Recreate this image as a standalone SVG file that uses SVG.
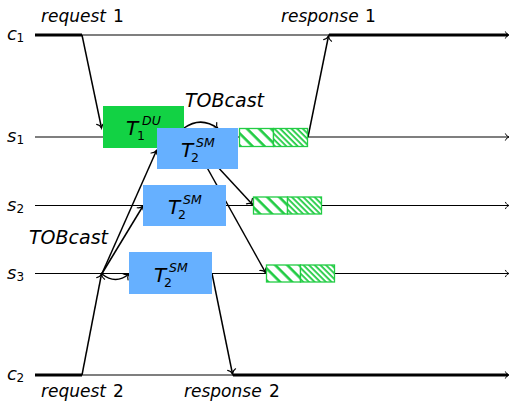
<svg xmlns="http://www.w3.org/2000/svg" width="511" height="403" viewBox="0 0 511 403">
  <style>
    text { font-family: "DejaVu Sans", "Noto Sans", sans-serif; fill: #000; }
    .it { font-style: italic; }
    .up { font-style: normal; }
    .lbl { font-size: 17px; }
    .lane { font-size: 18px; font-style: italic; }
    .sub { font-size: 12px; }
    .big { font-size: 20px; font-style: italic; }
    .tiny { font-size: 12.5px; }
    .cast { font-size: 19px; font-style: italic; }
    .line { stroke: #000; stroke-width: 1.1; fill: none; }
    .thick { stroke: #000; stroke-width: 2.8; fill: none; }
    .msg { stroke: #000; stroke-width: 1.5; fill: none; marker-end: url(#tip); }
    .du { fill: #12d244; }
    .sm { fill: #66b0ff; }
    .cell { stroke: #22cc44; stroke-width: 1.3; }
  </style>
  <defs>
    <marker id="tip" markerUnits="userSpaceOnUse" viewBox="-6 -5 8 10" refX="0" refY="0" markerWidth="8" markerHeight="10" orient="auto" overflow="visible">
      <path d="M-4.5,-4 C-3.5,-1.6 -1.4,-0.4 0,0 C-1.4,0.4 -3.5,1.6 -4.5,4" fill="none" stroke="#000" stroke-width="1.2" stroke-linecap="round"/>
    </marker>
    <marker id="ltip" markerUnits="userSpaceOnUse" viewBox="-6 -5 8 10" refX="0" refY="0" markerWidth="8" markerHeight="10" orient="auto" overflow="visible">
      <path d="M-3.5,-3.2 C-2.7,-1.3 -1.1,-0.3 0,0 C-1.1,0.3 -2.7,1.3 -3.5,3.2" fill="none" stroke="#000" stroke-width="1" stroke-linecap="round"/>
    </marker>
    <pattern id="sparse" patternUnits="userSpaceOnUse" width="8.5" height="8.5" patternTransform="rotate(45)">
      <rect width="8.5" height="8.5" fill="#fff"/>
      <rect y="0" width="8.5" height="2.6" fill="#22cc44"/>
    </pattern>
    <pattern id="dense" patternUnits="userSpaceOnUse" width="4" height="4" patternTransform="rotate(45)">
      <rect width="4" height="4" fill="#fff"/>
      <rect y="0" width="4" height="1.8" fill="#22cc44"/>
    </pattern>
  </defs>

  <!-- process timelines -->
  <g id="lanes">
    <path class="line" d="M35,35 H509" marker-end="url(#ltip)"/>
    <path class="line" d="M35,137 H509" marker-end="url(#ltip)"/>
    <path class="line" d="M35,205.5 H509" marker-end="url(#ltip)"/>
    <path class="line" d="M35,273.5 H509" marker-end="url(#ltip)"/>
    <path class="line" d="M35,375 H509" marker-end="url(#ltip)"/>
    <path class="thick" d="M35,35 H82 M329,35 H508"/>
    <path class="thick" d="M35,375 H82 M233,375 H508"/>
  </g>

  <g id="lane-labels">
    <text class="lane" x="7" y="40">c<tspan class="sub up" x="16.5" y="42">1</tspan></text>
    <text class="lane" x="7" y="142">s<tspan class="sub up" x="16.5" y="144">1</tspan></text>
    <text class="lane" x="7" y="210.5">s<tspan class="sub up" x="16.5" y="212.5">2</tspan></text>
    <text class="lane" x="7" y="278.5">s<tspan class="sub up" x="16.5" y="280.5">3</tspan></text>
    <text class="lane" x="7" y="380">c<tspan class="sub up" x="16.5" y="382">2</tspan></text>
  </g>

  <!-- messages -->
  <g id="connectors">
    <path class="msg" d="M82,35 L101.5,128"/>
    <path class="msg" d="M308,137 L328.5,36"/>
    <path class="msg" d="M184,128 Q201,116 218,128.5"/>
    <path class="msg" d="M190,137 L252.5,204.5"/>
    <path class="msg" d="M190,137 L265.5,272.5"/>
    <path class="msg" d="M82,375 L101.5,274"/>
    <path class="msg" d="M102,273.5 L156.5,150.5"/>
    <path class="msg" d="M102,273.5 L143,206"/>
    <path class="msg" d="M102,274 Q115.5,285 129,274"/>
    <path class="msg" d="M212,273.5 L232.5,374"/>
  </g>

  <g id="message-labels">
    <text class="lbl" x="41" y="22"><tspan class="it">request</tspan><tspan x="113">1</tspan></text>
    <text class="lbl" x="281" y="22"><tspan class="it">response</tspan><tspan x="365">1</tspan></text>
    <text class="lbl" x="41" y="397"><tspan class="it">request</tspan><tspan x="113">2</tspan></text>
    <text class="lbl" x="184" y="397"><tspan class="it">response</tspan><tspan x="269">2</tspan></text>
    <text class="cast" x="185" y="107">TOBcast</text>
    <text class="cast" x="29" y="244">TOBcast</text>
  </g>

  <!-- transactions -->
  <g id="t1-du">
    <rect class="du" x="103" y="106" width="81" height="42"/>
    <text class="big" x="126" y="135">T<tspan class="tiny up" x="137" y="140">1</tspan><tspan class="tiny it" x="142" y="125">DU</tspan></text>
  </g>
  <g id="t2-sm-s1">
    <rect class="sm" x="157" y="128" width="81" height="41"/>
    <text class="big" x="181" y="157">T<tspan class="tiny up" x="191" y="162">2</tspan><tspan class="tiny it" x="196" y="147">SM</tspan></text>
  </g>
  <g id="t2-sm-s2">
    <rect class="sm" x="143" y="185" width="83" height="41"/>
    <text class="big" x="168" y="214">T<tspan class="tiny up" x="178" y="219">2</tspan><tspan class="tiny it" x="183" y="204">SM</tspan></text>
  </g>
  <g id="t2-sm-s3">
    <rect class="sm" x="129" y="252" width="83" height="42"/>
    <text class="big" x="154" y="281.5">T<tspan class="tiny up" x="164" y="286.5">2</tspan><tspan class="tiny it" x="169" y="271.5">SM</tspan></text>
  </g>

  <!-- hatched commit phases -->
  <g id="commit-s1">
    <rect class="cell" x="239.5" y="128.5" width="34" height="18" fill="url(#sparse)"/>
    <rect class="cell" x="273.5" y="128.5" width="34" height="18" fill="url(#dense)"/>
  </g>
  <g id="commit-s2">
    <rect class="cell" x="253.5" y="197" width="34" height="17" fill="url(#sparse)"/>
    <rect class="cell" x="287.5" y="197" width="34" height="17" fill="url(#dense)"/>
  </g>
  <g id="commit-s3">
    <rect class="cell" x="266.5" y="265" width="34" height="17" fill="url(#sparse)"/>
    <rect class="cell" x="300.5" y="265" width="34" height="17" fill="url(#dense)"/>
  </g>
</svg>
